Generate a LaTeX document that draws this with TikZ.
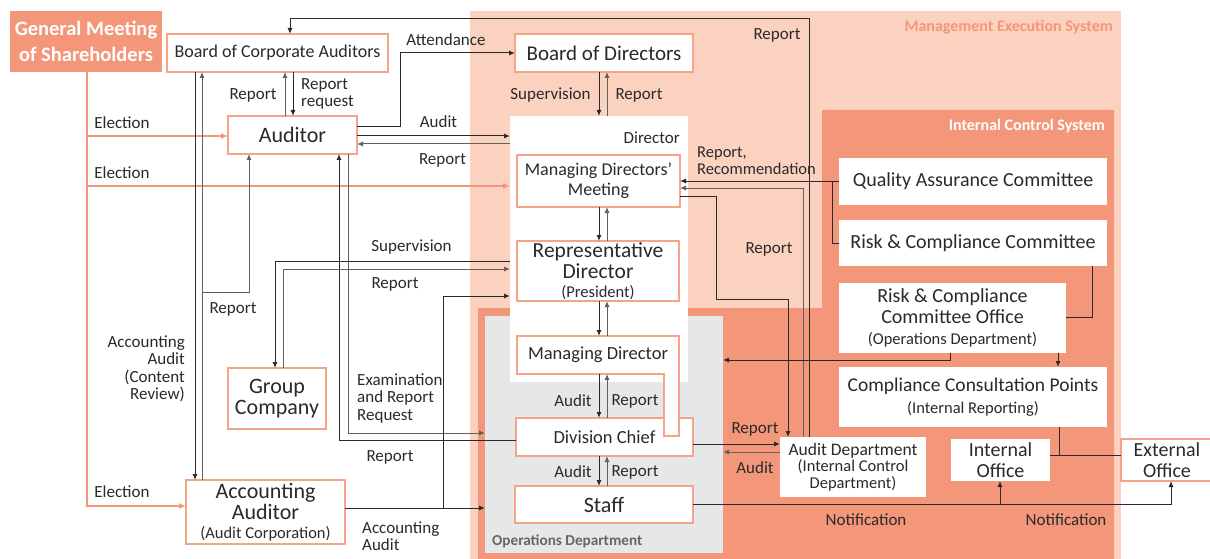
\documentclass[tikz,border=0pt]{standalone}
\usepackage{fontspec}
\setmainfont{Carlito}
\usetikzlibrary{arrows.meta,positioning,calc}

\definecolor{mgmtbg}{HTML}{FBD1C0}
\definecolor{ctrlbg}{HTML}{F4967A}
\definecolor{boxedge}{HTML}{F5A488}
\definecolor{opsbg}{HTML}{E6E7E9}
\definecolor{ink}{HTML}{2A2A2A}
\definecolor{inkgrey}{HTML}{606060}

\def\szlabel{\fontsize{17}{17.5}\selectfont}
\def\szsub{\fontsize{16.5}{17}\selectfont}
\def\szbox{\fontsize{18}{20}\selectfont}
\def\szmid{\fontsize{18.5}{19}\selectfont}
\def\szbig{\fontsize{22}{20.5}\selectfont}
\def\szctrl{\fontsize{20}{20.5}\selectfont}
\def\szhead{\fontsize{16}{17}\selectfont\bfseries}

\tikzset{
  area/.style={inner sep=0pt, outer sep=0pt, draw=none},
  box/.style={draw=boxedge, line width=1.2pt, fill=white, inner sep=0pt, outer sep=0pt, align=center, text=ink},
  plainbox/.style={box, draw=none},
  boxline/.style={draw=boxedge, line width=1.2pt},
  lbl/.style={inner sep=0pt, text=ink, font=\szlabel},
  head/.style={inner sep=0pt, font=\szhead},
  conn/.style={draw=ink, line width=1pt},
  arr/.style={conn, -{Latex[length=6pt,width=5pt]}},
  greyarr/.style={arr, draw=inkgrey},
  elect/.style={draw=ctrlbg, line width=2pt, -{Latex[length=7pt,width=6pt]}}
}

\begin{document}
\begin{tikzpicture}[x=1pt,y=-1pt]
	%%%%% START %%%%%
	\useasboundingbox (0,0) rectangle (1210,559);
	\fill[white] (0,0) rectangle (1210,559);
	
	% system areas
	\fill[mgmtbg] (470,11) rectangle (1121,559);
	\fill[ctrlbg] (478,559) |- (822,308) |- (1114,110) -- (1114,559) -- cycle;
	\node[area, fill=opsbg, minimum width=238, minimum height=237] (opdept) at (604,434.5) {};
	\node[area, fill=white, minimum width=178, minimum height=266] (director) at (599,249) {};
	
	\node[head, text=ctrlbg, anchor=east] (tMgmt) at (1113,27) {Management Execution System};
	\node[head, text=white, anchor=east] (tCtrl) at (1105,126) {Internal Control System};
	\node[head, text=black!60, anchor=west, font=\fontsize{15.2}{16}\selectfont\bfseries] (tOps) at (492,541) {Operations Department};
	\node[lbl, anchor=east] (tDir) at (680,138) {Director};
	
	% boxes
	\node[box, draw=none, fill=ctrlbg, text=white, font=\fontsize{20.5}{26}\selectfont\bfseries, minimum width=152, minimum height=61] (gm) at (86,41.5) {General Meeting\\of Shareholders};
	\node[box, font=\szbox, minimum width=221, minimum height=38] (bca) at (277.5,53) {Board of Corporate Auditors};
	\node[box, font=\szbig, minimum width=129, minimum height=38] (auditor) at (292.5,135) {Auditor};
	\node[box, font=\fontsize{21}{21}\selectfont, minimum width=178, minimum height=38] (bod) at (604,53) {Board of Directors};
	\node[box, font=\szbox, minimum width=163, minimum height=52] (mdm) at (598.5,181) {Managing Directors'\\Meeting};
	\node[box, font=\fontsize{21.5}{21}\selectfont, minimum width=162, minimum height=60] (rd) at (598,271) {Representative\\Director\\[-2pt]{\szsub(President)}};
	\node[box, font=\szmid, minimum width=177, minimum height=38] (dc) at (604.5,437) {Division Chief};
	\draw[boxline, fill=white] (517,336) -- (679,336) -- (679,436) -- (664,436) -- (664,374) -- (517,374) -- cycle;
	\node[box, draw=none, fill=none, font=\szmid, minimum width=162, minimum height=38] (md) at (598,355) {Managing Director};
	\node[box, font=\szbig, minimum width=178, minimum height=37] (staff) at (604,504.5) {Staff};
	\node[box, font=\fontsize{22}{21.5}\selectfont, minimum width=98, minimum height=61] (group) at (277,398.5) {Group\\Company};
	\node[box, font=\fontsize{22}{21}\selectfont, minimum width=159, minimum height=64] (aa) at (265.5,512) {Accounting\\Auditor\\[-2pt]{\szsub(Audit Corporation)}};
	
	\node[plainbox, font=\szctrl, minimum width=268, minimum height=47] (qac) at (973,181.5) {Quality Assurance Committee};
	\node[plainbox, font=\szctrl, minimum width=268, minimum height=46] (rcc) at (973,243) {Risk \& Compliance Committee};
	\node[plainbox, font=\fontsize{20}{21}\selectfont, minimum width=227, minimum height=70] (rcco) at (952.5,318) {Risk \& Compliance\\Committee Office\\{\szsub(Operations Department)}};
	\node[plainbox, font=\fontsize{19.5}{22}\selectfont, minimum width=268, minimum height=60] (ccp) at (973,397) {Compliance Consultation Points\\{\szsub(Internal Reporting)}};
	\node[plainbox, font=\fontsize{17.5}{16.5}\selectfont, minimum width=146, minimum height=60] (ad) at (853,467) {Audit Department\\{\szsub(Internal Control}\\{\szsub Department)}};
	\node[plainbox, font=\szctrl, minimum width=99, minimum height=42] (io) at (1000.5,460) {Internal\\Office};
	\node[box, font=\szctrl, minimum width=92, minimum height=42] (eo) at (1167,460) {External\\Office};
	
	% election
	\draw[elect] (gm.south -| 87,0) |- (aa.west |- 0,506);
	\draw[elect] (87,136) -- (auditor.west |- 0,136);
	\draw[elect] (87,186) -- (director.west |- 0,186);
	\node[lbl] (lEl1) at (122,123) {Election};
	\node[lbl] (lEl2) at (122,173) {Election};
	\node[lbl] (lEl3) at (122,492) {Election};
	
	% corporate auditors
	\draw[greyarr] (auditor.north -| 285,0) -- (bca.south -| 285,0);
	\draw[arr] (bca.south -| 293,0) -- (auditor.north -| 293,0);
	\node[lbl] (lRep1) at (253,95) {Report};
	\node[lbl, anchor=west, align=left] (lReq) at (301,94) {Report\\request};
	
	\draw[arr] (auditor.east |- 0,127) -| (400,53) -- (bod.west);
	\node[lbl] (lAtt) at (446,40) {Attendance};
	
	\draw[arr] (auditor.east |- 0,136) -- (director.west |- 0,136);
	\draw[greyarr] (director.west |- 0,144) -- (auditor.east |- 0,144);
	\node[lbl] (lAud1) at (438.5,122) {Audit};
	\node[lbl] (lRep2) at (442.5,160) {Report};
	
	\draw[arr] (bca.south -| 195,0) -- (aa.north -| 195,0);
	\draw[greyarr] (aa.north -| 202,0) -- (bca.south -| 202,0);
	\draw[greyarr] (202,292) -| (auditor.south -| 249,0);
	\node[lbl] (lRep3) at (233,309) {Report};
	\node[lbl, anchor=east, align=right] (lAcc1) at (185,369) {Accounting\\Audit\\(Content\\Review)};
	
	\draw[arr] (dc.west |- 0,440) -| (auditor.south -| 339,0);
	\draw[greyarr] (auditor.south -| 348,0) |- (opdept.west |- 0,433);
	\node[lbl, anchor=west, align=left] (lExam) at (357,398) {Examination\\and Report\\Request};
	\node[lbl] (lRep4) at (390,457) {Report};
	
	% group company
	\draw[arr] (director.west |- 0,261) -| (group.north -| 275,0);
	\draw[greyarr] (group.north -| 283,0) |- (director.west |- 0,269);
	\node[lbl] (lSup1) at (411.5,247) {Supervision};
	\node[lbl] (lRep5) at (395,284) {Report};
	
	% accounting audit
	\draw[arr] (aa.east |- 0,508) -- (opdept.west |- 0,508);
	\draw[arr] (443,508) |- (director.west |- 0,296);
	\node[lbl, anchor=west, align=left] (lAcc2) at (362,536) {Accounting\\Audit};
	
	% chain of command
	\draw[arr] (bod.south -| 599,0) -- (director.north -| 599,0);
	\draw[greyarr] (director.north -| 607,0) -- (bod.south -| 607,0);
	\node[lbl] (lSup2) at (550.5,95) {Supervision};
	\node[lbl] (lRep6) at (639,95) {Report};
	\draw[arr] (mdm.south -| 599,0) -- (rd.north -| 599,0);
	\draw[greyarr] (rd.north -| 607,0) -- (mdm.south -| 607,0);
	\draw[arr] (rd.south -| 599,0) -- (md.north -| 599,0);
	\draw[greyarr] (md.north -| 607,0) -- (rd.south -| 607,0);
	\draw[arr] (md.south -| 599,0) -- (dc.north -| 599,0);
	\draw[greyarr] (dc.north -| 607,0) -- (md.south -| 607,0);
	\node[lbl] (lAud2) at (573,401) {Audit};
	\node[lbl] (lRep7) at (635,401) {Report};
	\draw[arr] (dc.south -| 599,0) -- (staff.north -| 599,0);
	\draw[greyarr] (staff.north -| 607,0) -- (dc.south -| 607,0);
	\node[lbl] (lAud3) at (573,472) {Audit};
	\node[lbl] (lRep8) at (635,472) {Report};
	
	% audit department
	\draw[arr] (ad.north -| 809,0) |- (290,19) -- (bca.north -| 290,0);
	\node[lbl] (lRep9) at (777,35) {Report};
	\draw[greyarr] (ad.north -| 803,0) |- (mdm.east |- 0,188);
	\draw[arr] (mdm.east |- 0,196) -| (716,299) -| (ad.north -| 788,0);
	\node[lbl] (lRep10) at (769,249) {Report};
	\draw[arr] (dc.east |- 0,444) -- (ad.west |- 0,444);
	\draw[greyarr] (ad.west |- 0,452) -- (opdept.east |- 0,452);
	\node[lbl] (lRep11) at (755,429) {Report};
	\node[lbl] (lAud4) at (755,468) {Audit};
	
	% internal control
	\draw[arr] (qac.west |- 0,181) -- (mdm.east |- 0,181);
	\draw[conn] (rcc.west) -| (832,181);
	\node[lbl, anchor=west, align=left, font=\fontsize{16.5}{16.5}\selectfont] (lRec) at (697,161) {Report,\\Recommendation};
	\draw[conn] (rcc.south -| 1092,0) |- (rcco.east |- 0,317);
	\draw[arr] (rcco.south -| 1058,0) -- (ccp.north -| 1058,0);
	\draw[arr] (rcco.south -| 950,0) |- (opdept.east |- 0,360);
	\draw[conn] (io.east |- 0,455) -- (eo.west |- 0,455);
	\draw[conn] (ccp.south -| 1059,0) -- (1059,455);
	
	% notification
	\draw[arr] (staff.east |- 0,504) -| (eo.south -| 1171,0);
	\draw[arr] (1000,504) -- (io.south -| 1000,0);
	\node[lbl] (lNot1) at (866,520) {Notification};
	\node[lbl] (lNot2) at (1066,520) {Notification};
	
	%%%%% END %%%%%
\end{tikzpicture}
\end{document}
